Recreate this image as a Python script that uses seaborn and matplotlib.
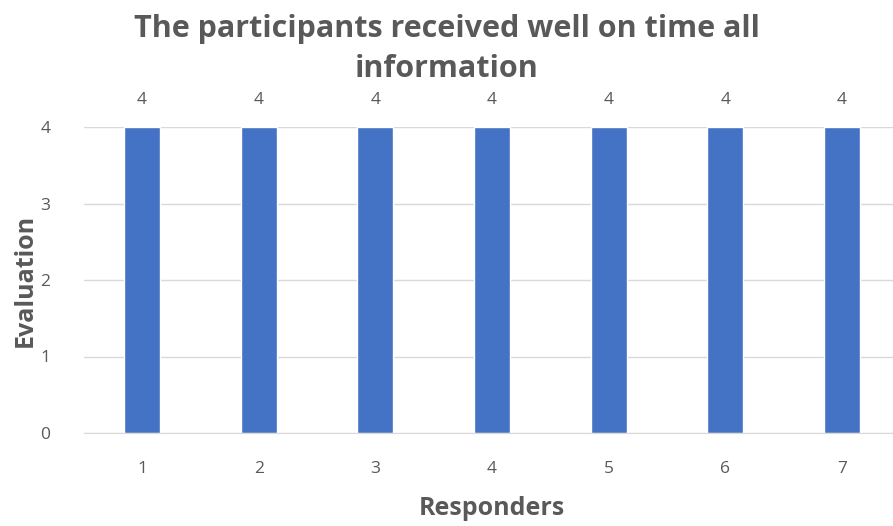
import numpy as np
import pandas as pd
import seaborn as sns
import matplotlib.pyplot as plt

# chart data
responders = ['1', '2', '3', '4', '5', '6', '7']
evaluation = [4, 4, 4, 4, 4, 4, 4]

df = pd.DataFrame({'Responders': responders, 'Evaluation': evaluation})

sns.set_style('white')
plt.rcParams['font.family'] = ['Open Sans', 'DejaVu Sans']

grey = '#595959'
fig = plt.figure(figsize=(8.93, 5.26), dpi=100)
ax = fig.add_axes([83.7 / 893, 1 - 433 / 526, 816.7 / 893, 306 / 526])

sns.barplot(data=df, x='Responders', y='Evaluation', color='#4472C4',
            width=0.31, saturation=1, ax=ax, zorder=3)

ax.set_xlim(-0.5, 6.5)
ax.set_ylim(0, 4)
ax.set_yticks([0, 1, 2, 3, 4])
ax.yaxis.grid(True, color='#D9D9D9', linewidth=1, zorder=0)
for s in ['top', 'right', 'left']:
    ax.spines[s].set_visible(False)
ax.spines['bottom'].set_color('#D9D9D9')
ax.spines['bottom'].set_zorder(4)
ax.tick_params(axis='both', length=0, labelsize=12.5, labelcolor=grey)
ax.tick_params(axis='x', pad=20)
ax.tick_params(axis='y', pad=24)

for c in ax.containers:
    ax.bar_label(c, fmt='%d', padding=14, fontsize=12.5, color=grey)

ax.set_xlabel('Responders', fontsize=18, fontweight='bold', color=grey, labelpad=14)
ax.set_ylabel('Evaluation', fontsize=18, fontweight='bold', color=grey, labelpad=2)

fig.text(0.5, 1 - 49 / 526, 'The participants received well on time all\ninformation',
         ha='center', va='center', fontsize=22, fontweight='bold', color=grey,
         linespacing=1.45)

fig.savefig('out.png', dpi=100)
